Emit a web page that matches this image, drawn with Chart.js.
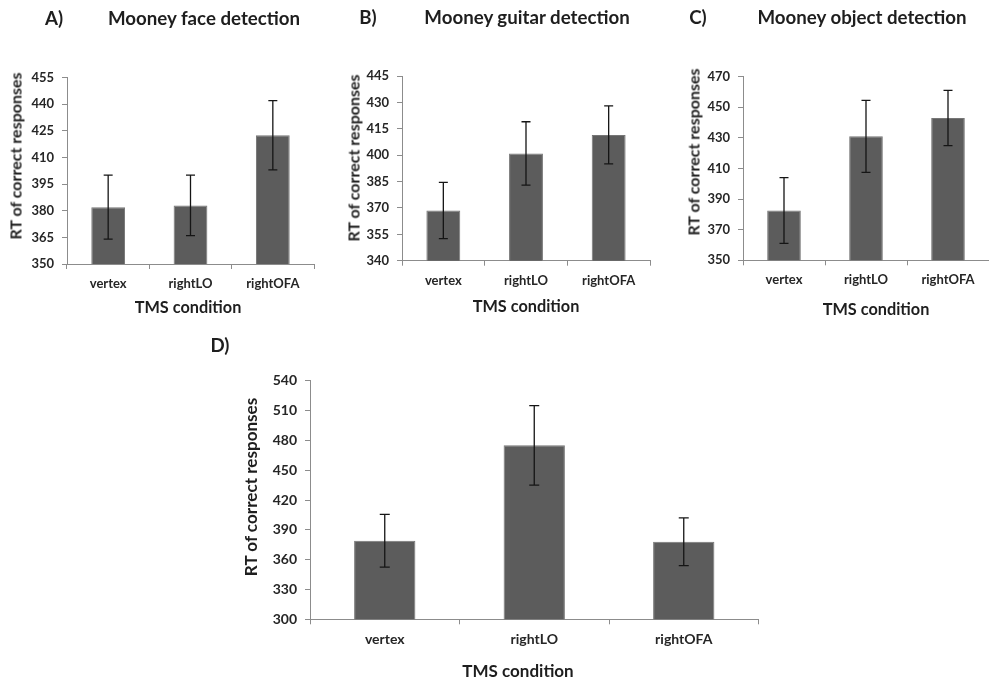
<!DOCTYPE html>
<html>
<head>
<meta charset="utf-8">
<script src="https://cdn.jsdelivr.net/npm/chart.js@4.4.1/dist/chart.umd.min.js"></script>
<style>
  html, body { margin: 0; padding: 0; background: #ffffff; }
  body { width: 989px; height: 682px; position: relative; overflow: hidden; font-family: Lato, "Open Sans", sans-serif; }
  canvas { position: absolute; }
  .t { position: absolute; transform: translate(-50%, -50%); white-space: nowrap; color: #1e1e1e; font-weight: bold; }
  .title { font-size: 18.7px; }
  .axt { font-size: 16.3px; }
  .yt { transform: translate(-50%, -50%) rotate(-90deg); font-size: 16px; }
</style>
</head>
<body>
<canvas id="cA"></canvas>
<canvas id="cB"></canvas>
<canvas id="cC"></canvas>
<canvas id="cD"></canvas>

<div class="t title" style="left:54px;top:18px;">A)</div>
<div class="t title" style="left:204px;top:18px;">Mooney face detection</div>
<div class="t title" style="left:368px;top:17px;">B)</div>
<div class="t title" style="left:527px;top:17px;">Mooney guitar detection</div>
<div class="t title" style="left:698px;top:17px;">C)</div>
<div class="t title" style="left:862px;top:17px;">Mooney object detection</div>
<div class="t title" style="left:220px;top:345px;">D)</div>

<div class="t axt yt" style="left:15px;top:156px;">RT of correct responses</div>
<div class="t axt yt" style="left:353px;top:158px;">RT of correct responses</div>
<div class="t axt yt" style="left:693px;top:152px;">RT of correct responses</div>
<div class="t axt yt" style="left:250px;top:487px;font-size:17.1px;">RT of correct responses</div>

<div class="t axt" style="left:188px;top:306px;">TMS condition</div>
<div class="t axt" style="left:526px;top:305px;">TMS condition</div>
<div class="t axt" style="left:876px;top:308px;">TMS condition</div>
<div class="t axt" style="left:518px;top:670px;font-size:17px;">TMS condition</div>

<script>
// ---- data ----
const categories = ['vertex', 'rightLO', 'rightOFA'];

const faceMeans = [382, 383, 422.5];
const faceErrors = [18, 17, 19.5];
const faceTicks = [350, 365, 380, 395, 410, 425, 440, 455];

const guitarMeans = [368.5, 401, 411.5];
const guitarErrors = [16, 18, 16.5];
const guitarTicks = [340, 355, 370, 385, 400, 415, 430, 445];

const objectMeans = [382.5, 431, 443];
const objectErrors = [21.5, 23.5, 18];
const objectTicks = [350, 370, 390, 410, 430, 450, 470];

const allMeans = [379, 475, 378];
const allErrors = [26.5, 40, 24];
const allTicks = [300, 330, 360, 390, 420, 450, 480, 510, 540];

// ---- error bar plugin ----
const errorBarPlugin = {
  id: 'errorBars',
  afterDatasetsDraw(chart) {
    const errs = chart.options.plugins.errorBars.errors;
    const cap = chart.options.plugins.errorBars.cap;
    const ds = chart.data.datasets[0];
    const xs = chart.scales.x, ys = chart.scales.y;
    const ctx = chart.ctx;
    ctx.save();
    ctx.strokeStyle = '#151515';
    ctx.lineWidth = 1.3;
    ds.data.forEach((v, i) => {
      const x = xs.getPixelForValue(i);
      const yTop = ys.getPixelForValue(v + errs[i]);
      const yBot = ys.getPixelForValue(v - errs[i]);
      ctx.beginPath();
      ctx.moveTo(x, yTop); ctx.lineTo(x, yBot);
      ctx.moveTo(x - cap, yTop); ctx.lineTo(x + cap, yTop);
      ctx.moveTo(x - cap, yBot); ctx.lineTo(x + cap, yBot);
      ctx.stroke();
    });
    ctx.restore();
  }
};

function makeChart(id, pos, area, means, errors, ticks, fs, cap) {
  const cv = document.getElementById(id);
  cv.style.left = pos.left + 'px';
  cv.style.top = pos.top + 'px';
  cv.width = pos.w; cv.height = pos.h;
  cv.style.width = pos.w + 'px'; cv.style.height = pos.h + 'px';
  const Wy = 45, Hx = 30;
  const axisColor = '#8c8c8c';
  return new Chart(cv, {
    type: 'bar',
    data: {
      labels: categories,
      datasets: [{
        data: means,
        backgroundColor: '#5c5c5c',
        borderColor: '#767676',
        borderWidth: 1,
        barPercentage: 0.41,
        categoryPercentage: 1.0
      }]
    },
    options: {
      responsive: false,
      animation: false,
      events: [],
      layout: {
        padding: {
          left: area.l - Wy,
          top: area.t,
          right: pos.w - area.r,
          bottom: pos.h - area.b - Hx
        }
      },
      plugins: {
        legend: { display: false },
        title: { display: false },
        tooltip: { enabled: false },
        errorBars: { errors: errors, cap: cap }
      },
      scales: {
        x: {
          type: 'category',
          offset: true,
          afterFit: s => { s.height = Hx; },
          grid: { display: true, offset: true, drawOnChartArea: false, drawTicks: true, tickLength: 5, color: axisColor },
          border: { display: true, color: axisColor, width: 1 },
          ticks: { color: '#262626', padding: 7, font: { family: 'Lato', size: fs, weight: 'bold' } }
        },
        y: {
          min: ticks[0],
          max: ticks[ticks.length - 1],
          afterFit: s => { s.width = Wy; },
          afterBuildTicks: s => { s.ticks = ticks.map(v => ({ value: v })); },
          grid: { display: true, drawOnChartArea: false, drawTicks: true, tickLength: 5, color: axisColor },
          border: { display: true, color: axisColor, width: 1 },
          ticks: { color: '#262626', padding: 8, font: { family: 'Lato', size: fs, weight: 'bold' } }
        }
      }
    },
    plugins: [errorBarPlugin]
  });
}

makeChart('cA', { left: 0, top: 0, w: 330, h: 300 }, { l: 67, t: 77.5, r: 314, b: 264 }, faceMeans, faceErrors, faceTicks, 13, 4.5);
makeChart('cB', { left: 335, top: 0, w: 330, h: 300 }, { l: 67, t: 76, r: 315, b: 260.7 }, guitarMeans, guitarErrors, guitarTicks, 13, 4.5);
makeChart('cC', { left: 670, top: 0, w: 319, h: 300 }, { l: 73, t: 76.7, r: 319, b: 260.3 }, objectMeans, objectErrors, objectTicks, 13, 4.5);
makeChart('cD', { left: 200, top: 330, w: 600, h: 352 }, { l: 110, t: 50.7, r: 558.5, b: 289.3 }, allMeans, allErrors, allTicks, 14, 5);
</script>
</body>
</html>
